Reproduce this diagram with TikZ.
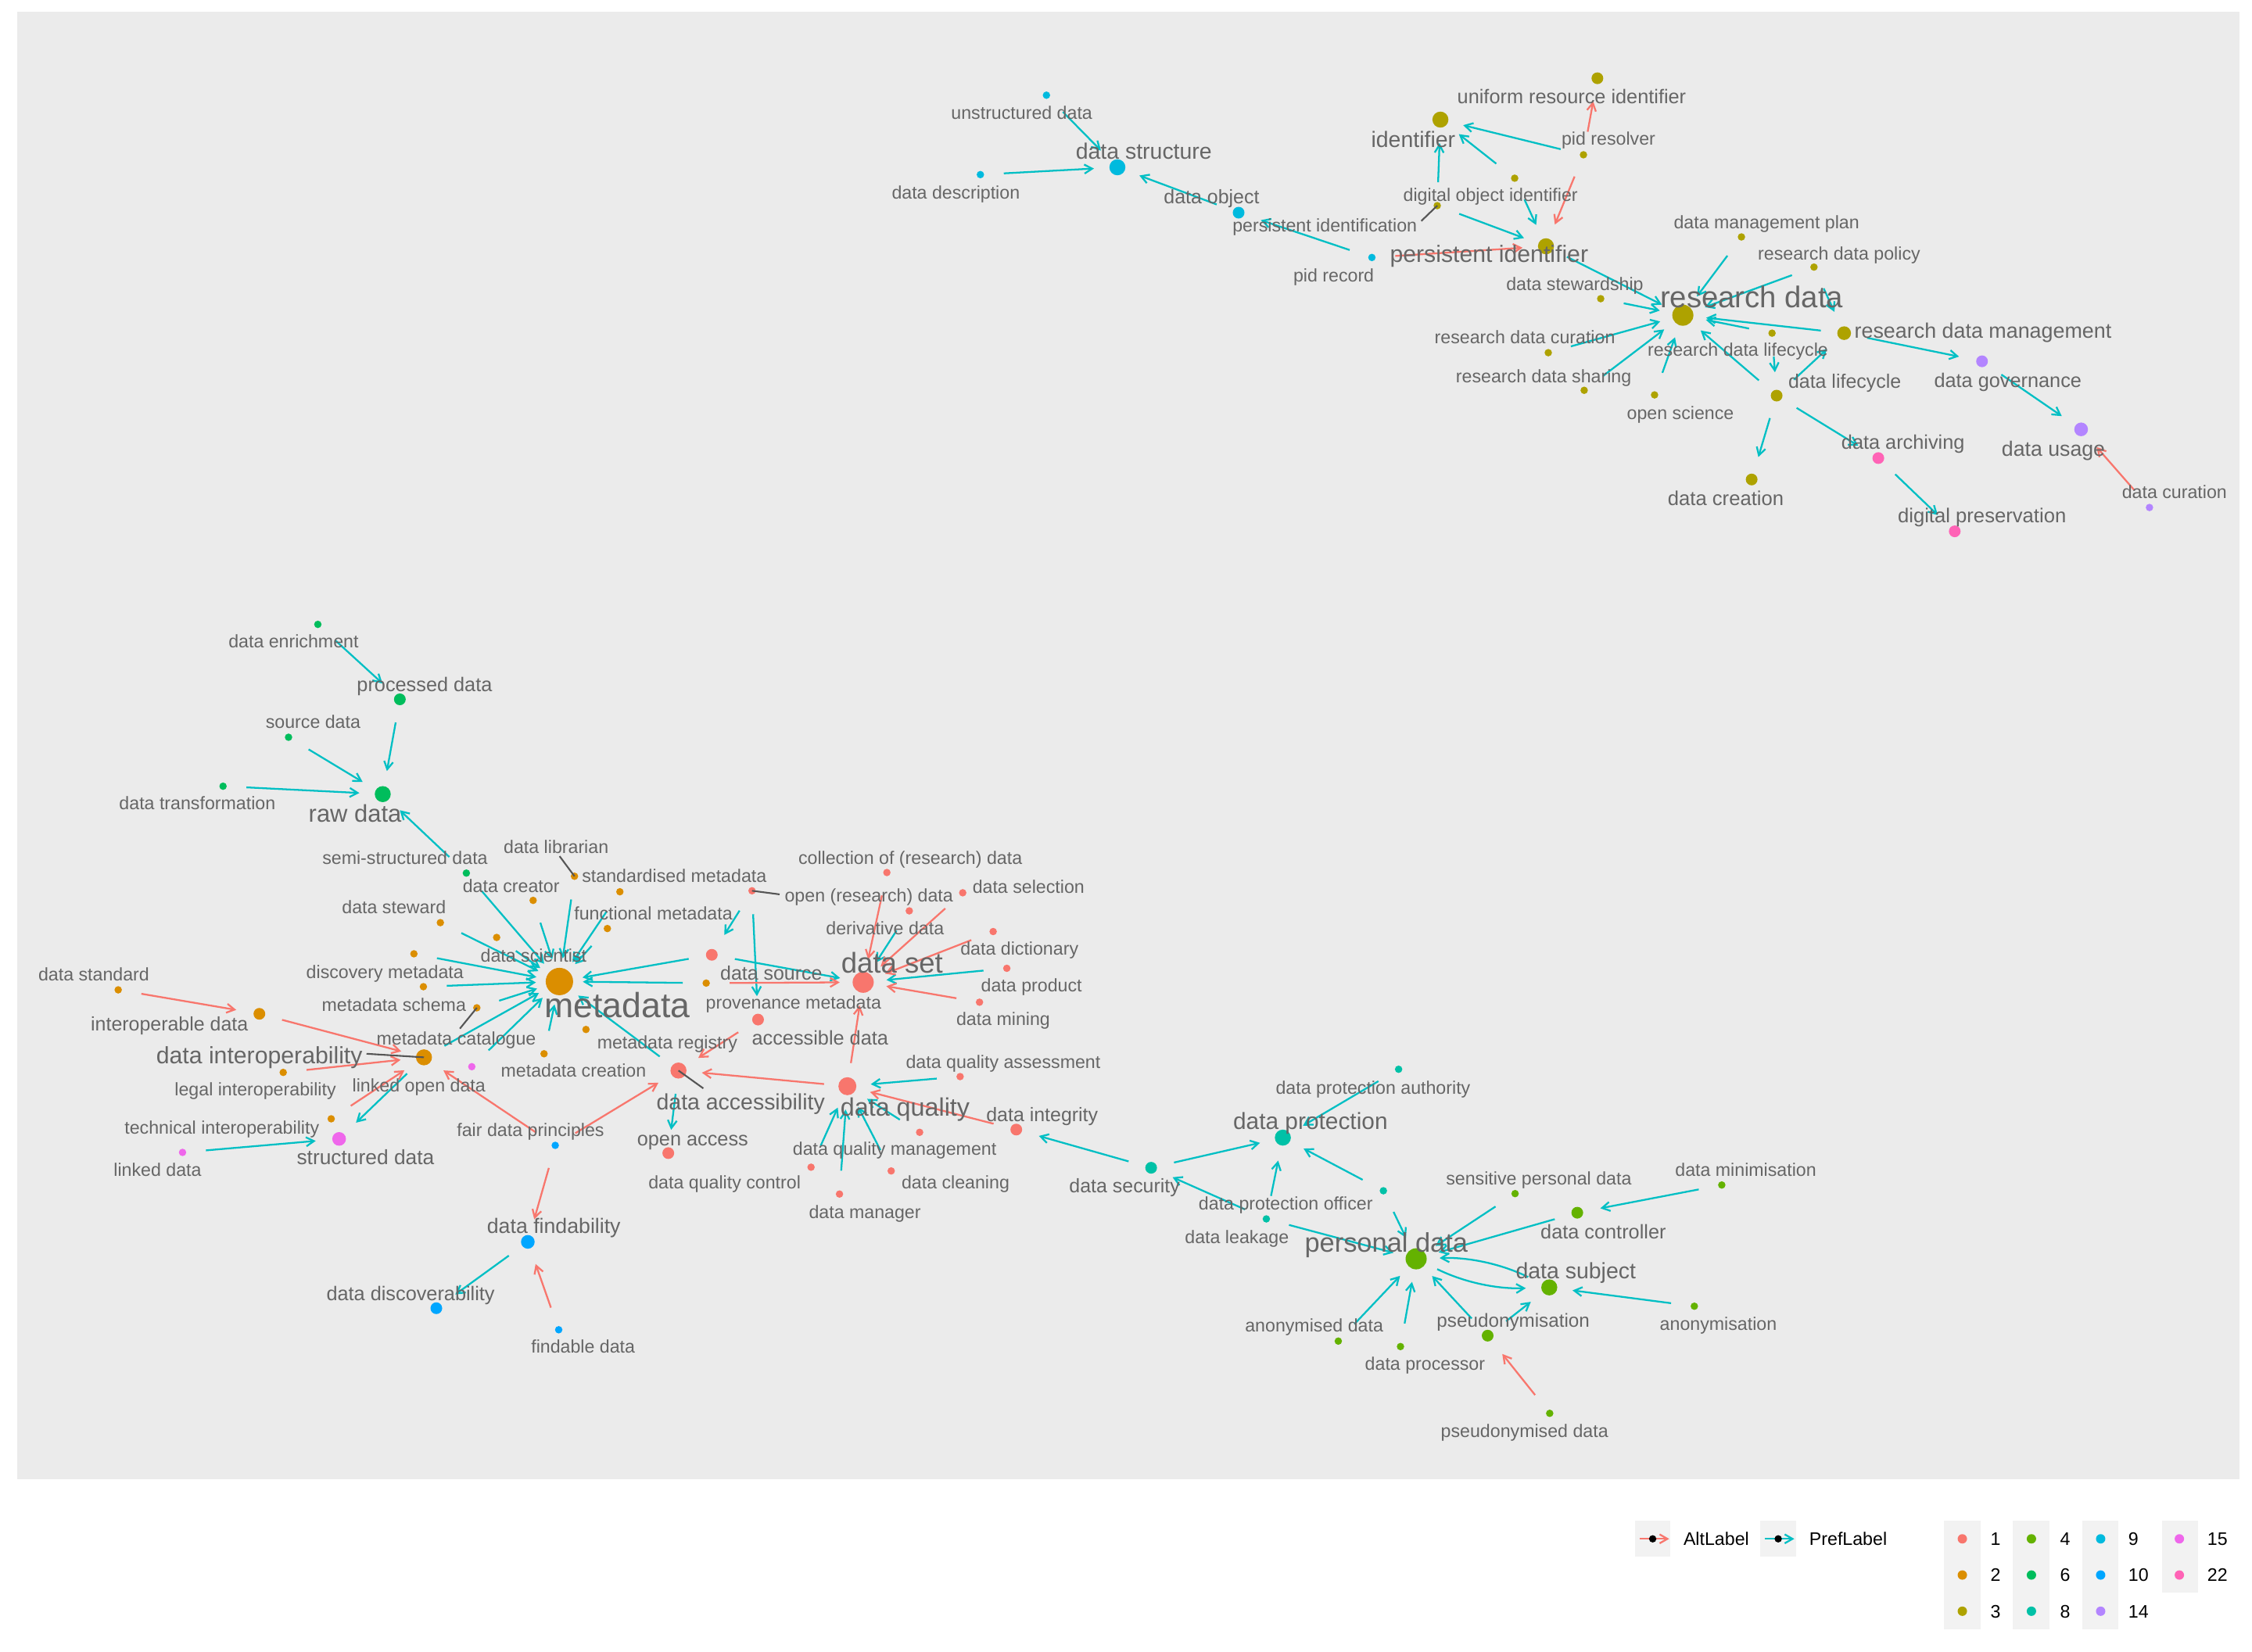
\documentclass[tikz,border=0pt]{standalone}
\usepackage{fontspec}
\setmainfont{Liberation Sans}
\usetikzlibrary{arrows.meta}
\definecolor{c1}{HTML}{F8766D}
\definecolor{c2}{HTML}{DB8E00}
\definecolor{c3}{HTML}{AEA200}
\definecolor{c4}{HTML}{64B200}
\definecolor{c6}{HTML}{00BD5C}
\definecolor{c8}{HTML}{00C1A7}
\definecolor{c9}{HTML}{00BADE}
\definecolor{c10}{HTML}{00A6FF}
\definecolor{c14}{HTML}{B385FF}
\definecolor{c15}{HTML}{EF67EB}
\definecolor{c22}{HTML}{FF63B6}
\definecolor{altc}{HTML}{F8766D}
\definecolor{prefc}{HTML}{00BFC4}
\definecolor{panelbg}{HTML}{EBEBEB}
\definecolor{keybg}{HTML}{F2F2F2}
\definecolor{labelgray}{HTML}{666666}
\definecolor{seggray}{HTML}{555555}
\begin{document}
\begin{tikzpicture}[x=0.018367cm,y=-0.018367cm,
  dotnode/.style={circle,inner sep=0pt,draw=none,fill=#1},
  dS/.style={minimum size=0.95mm},
  dM/.style={minimum size=1.5mm},
  dML/.style={minimum size=1.75mm},
  dL/.style={minimum size=2.05mm},
  dQ/.style={minimum size=2.3mm},
  dXL/.style={minimum size=2.7mm},
  dXXL/.style={minimum size=3.5mm},
  lbl/.style={text=labelgray,inner sep=0pt,font=\fontsize{#1}{#1}\selectfont,text height=0.72*#1pt,text depth=0pt},
  tip/.style={-{Straight Barb[length=1mm,width=1.15mm]}},
  edge/.style={line width=0.65pt,shorten <=3mm,shorten >=3mm,tip},
  pref/.style={edge,draw=prefc},
  alt/.style={edge,draw=altc},
  seg/.style={draw=seggray,line width=0.6pt},
  legtext/.style={text=black,inner sep=0pt,anchor=west,font=\fontsize{6.6}{6.6}\selectfont,text height=4.75pt,text depth=0pt},
]
\useasboundingbox (0,0) rectangle (1568,1150);
\fill[white] (0,0) rectangle (1568,1150);
\fill[panelbg] (12,8) rectangle (1559,1030);

% ---------- concept points ----------
\node[dotnode=c9,dS] (unstruct) at (728.6,66.3) {};
\node[dotnode=c9,dL] (dstruct) at (778,116.5) {};
\node[dotnode=c9,dS] (ddesc) at (682.6,121.6) {};
\node[dotnode=c9,dM] (dobject) at (862.4,148.1) {};
\node[dotnode=c9,dS] (pidrecord) at (955.2,179.3) {};
\node[dotnode=c3,dM] (uri) at (1112.2,54.5) {};
\node[dotnode=c3,dL] (identifier) at (1002.9,83.3) {};
\node[dotnode=c3,dS] (pidresolver) at (1102.5,107.8) {};
\node[dotnode=c3,dS] (doi) at (1054.6,124.1) {};
\node[dotnode=c3,dS] (persid) at (1000.7,143.2) {};
\node[dotnode=c3,dL] (persidf) at (1076.4,171.5) {};
\node[dotnode=c3,dXL] (resdata) at (1171.7,219.5) {};
\node[dotnode=c3,dS] (dmp) at (1212.5,165) {};
\node[dotnode=c3,dS] (rdpolicy) at (1263,186) {};
\node[dotnode=c3,dS] (dstewardship) at (1114.5,208) {};
\node[dotnode=c3,dS] (rdcuration) at (1078,245.6) {};
\node[dotnode=c3,dS] (rdlifecycle) at (1233.8,232) {};
\node[dotnode=c3,dML] (rdm) at (1284,232) {};
\node[dotnode=c3,dS] (rdsharing) at (1103,271.8) {};
\node[dotnode=c3,dS] (openscience) at (1152,275) {};
\node[dotnode=c3,dM] (dlifecycle) at (1237,275.5) {};
\node[dotnode=c14,dM] (dgovernance) at (1380,251.6) {};
\node[dotnode=c14,dML] (dusage) at (1449,299) {};
\node[dotnode=c14,dS] (dcuration) at (1496.6,353.4) {};
\node[dotnode=c22,dM] (darchiving) at (1307.8,319) {};
\node[dotnode=c22,dM] (dpreservation) at (1361,370) {};
\node[dotnode=c3,dM] (dcreation) at (1219.6,333.9) {};
\node[dotnode=c6,dS] (denrich) at (221.3,434.8) {};
\node[dotnode=c6,dM] (processed) at (278.4,487) {};
\node[dotnode=c6,dS] (sourcedata) at (200.9,513.4) {};
\node[dotnode=c6,dS] (dtransform) at (155.3,547.5) {};
\node[dotnode=c6,dL] (rawdata) at (266.5,553) {};
\node[dotnode=c6,dS] (semistruct) at (324.7,608) {};
\node[dotnode=c2,dS] (dlibrarian) at (400,610.2) {};
\node[dotnode=c2,dS] (stdmeta) at (431.6,621) {};
\node[dotnode=c2,dS] (dcreator) at (371.2,627) {};
\node[dotnode=c2,dS] (dsteward) at (306.6,642.5) {};
\node[dotnode=c2,dS] (funcmeta) at (422.9,646.6) {};
\node[dotnode=c2,dS] (dscientist) at (345.8,652.8) {};
\node[dotnode=c2,dS] (discmeta) at (288.2,664.2) {};
\node[dotnode=c2,dS] (metaschema) at (294.8,687.1) {};
\node[dotnode=c2,dS] (metacatalogue) at (332,701.8) {};
\node[dotnode=c2,dS] (provmeta) at (491.7,684.6) {};
\node[dotnode=c2,dS] (metaregistry) at (408,716.9) {};
\node[dotnode=c2,dS] (metacreation) at (378.8,733.8) {};
\node[dotnode=c2,dXXL] (metadata) at (389.5,683.5) {};
\node[dotnode=c2,dL] (dinterop) at (295.2,736.3) {};
\node[dotnode=c2,dM] (interopdata) at (180.6,706) {};
\node[dotnode=c2,dS] (dstandard) at (82.3,689.3) {};
\node[dotnode=c2,dS] (legalinterop) at (197.2,746.8) {};
\node[dotnode=c2,dS] (techinterop) at (230.6,779.1) {};
\node[dotnode=c15,dS] (linkedopen) at (328.5,742.8) {};
\node[dotnode=c15,dML] (structured) at (236.1,793.1) {};
\node[dotnode=c15,dS] (linkeddata) at (127.1,802.5) {};
\node[dotnode=c10,dS] (fair) at (386.6,797.6) {};
\node[dotnode=c10,dML] (findability) at (367.5,864.8) {};
\node[dotnode=c10,dM] (discoverability) at (303.8,911) {};
\node[dotnode=c10,dS] (findable) at (389,926) {};
\node[dotnode=c1,dS] (collection) at (617.5,607.6) {};
\node[dotnode=c1,dS] (openresearch) at (523.6,620.3) {};
\node[dotnode=c1,dS] (dselection) at (670.3,621.7) {};
\node[dotnode=c1,dS] (derivative) at (633.1,634.3) {};
\node[dotnode=c1,dS] (ddictionary) at (691.5,648.7) {};
\node[dotnode=c1,dS] (dproduct) at (701,674.3) {};
\node[dotnode=c1,dS] (dmining) at (682,697.9) {};
\node[dotnode=c1,dXL] (dataset) at (601,684) {};
\node[dotnode=c1,dM] (dsource) at (495.6,664.9) {};
\node[dotnode=c1,dM] (accessible) at (527.8,710) {};
\node[dotnode=c1,dL] (daccess) at (472.4,745.5) {};
\node[dotnode=c1,dM] (openaccess) at (465.3,803) {};
\node[dotnode=c1,dQ] (dquality) at (590,756.4) {};
\node[dotnode=c1,dS] (dqassess) at (668.5,749.7) {};
\node[dotnode=c1,dM] (dintegrity) at (707.6,786.6) {};
\node[dotnode=c1,dS] (dqmanage) at (640.3,788.5) {};
\node[dotnode=c1,dS] (dqcontrol) at (564.7,812.8) {};
\node[dotnode=c1,dS] (dcleaning) at (620.5,815.4) {};
\node[dotnode=c1,dS] (dmanager) at (584.5,831.5) {};
\node[dotnode=c8,dS] (dpauthority) at (973.8,744.6) {};
\node[dotnode=c8,dL] (dprotection) at (893.2,792.2) {};
\node[dotnode=c8,dM] (dsecurity) at (801.5,813.2) {};
\node[dotnode=c8,dS] (dpofficer) at (963.2,829.2) {};
\node[dotnode=c8,dS] (dleakage) at (881.7,848.8) {};
\node[dotnode=c4,dS] (sensitive) at (1054.9,831.2) {};
\node[dotnode=c4,dS] (dminimisation) at (1198.8,825.2) {};
\node[dotnode=c4,dM] (dcontroller) at (1098.2,844.5) {};
\node[dotnode=c4,dXL] (personal) at (986,876.6) {};
\node[dotnode=c4,dL] (dsubject) at (1078.7,896.5) {};
\node[dotnode=c4,dS] (anonymisation) at (1179.7,909.6) {};
\node[dotnode=c4,dM] (pseudonymisation) at (1035.8,930.1) {};
\node[dotnode=c4,dS] (anonymised) at (931.8,933.9) {};
\node[dotnode=c4,dS] (dprocessor) at (975.1,937.7) {};
\node[dotnode=c4,dS] (pseudonymised) at (1079,984.2) {};

% ---------- PrefLabel relations ----------
\foreach \s/\t in {unstruct/dstruct, ddesc/dstruct, dobject/dstruct, pidrecord/dobject,
  pidresolver/identifier, doi/identifier, persid/identifier, doi/persidf, persid/persidf,
  persidf/resdata, dmp/resdata, rdpolicy/resdata, rdpolicy/rdm, dstewardship/resdata,
  rdcuration/resdata, rdsharing/resdata, openscience/resdata, dlifecycle/resdata,
  rdlifecycle/resdata, rdm/resdata, rdlifecycle/dlifecycle, dlifecycle/rdm,
  rdm/dgovernance, dgovernance/dusage, dlifecycle/dcreation, dlifecycle/darchiving,
  darchiving/dpreservation,
  denrich/processed, processed/rawdata, sourcedata/rawdata, dtransform/rawdata, semistruct/rawdata,
  semistruct/metadata, dlibrarian/metadata, stdmeta/metadata, funcmeta/metadata,
  dcreator/metadata, dsteward/metadata, dscientist/metadata, discmeta/metadata,
  metaschema/metadata, metacatalogue/metadata, dinterop/metadata, metacreation/metadata,
  linkedopen/metadata, daccess/metadata, provmeta/metadata, dsource/metadata,
  openresearch/dsource, openresearch/accessible,
  dsource/dataset, derivative/dataset, dproduct/dataset,
  dinterop/structured, linkeddata/structured, daccess/openaccess,
  dqassess/dquality, dqmanage/dquality, dcleaning/dquality, dmanager/dquality, dqcontrol/dquality,
  findability/discoverability,
  dsecurity/dintegrity, dpauthority/dprotection, dsecurity/dprotection, dpofficer/dprotection,
  dleakage/dprotection, dleakage/dsecurity, dleakage/personal, dpofficer/personal,
  sensitive/personal, dcontroller/personal, dminimisation/dcontroller,
  anonymisation/dsubject, pseudonymisation/dsubject, pseudonymisation/personal,
  anonymised/personal, dprocessor/personal}
  \draw[pref] (\s.center) -- (\t.center);
\draw[pref] (personal.center) to[bend right=14] (dsubject.center);
\draw[pref] (dsubject.center) to[bend right=14] (personal.center);

% ---------- AltLabel relations ----------
\foreach \s/\t in {pidresolver/uri, pidresolver/persidf, pidrecord/persidf, dcuration/dusage,
  dstandard/interopdata, interopdata/dinterop, legalinterop/dinterop, techinterop/dinterop,
  fair/dinterop, fair/daccess, fair/findability, findable/findability,
  accessible/daccess, dquality/daccess, provmeta/dataset, collection/dataset,
  dselection/dataset, ddictionary/dataset, dmining/dataset, dquality/dataset,
  dintegrity/dquality, pseudonymised/pseudonymisation}
  \draw[alt] (\s.center) -- (\t.center);

% ---------- label leader lines ----------
\coordinate (persid-s) at (989.6,153.9);
\coordinate (dlibrarian-s) at (389.6,596.2);
\coordinate (metacatalogue-s) at (320.2,716.3);
\coordinate (dinterop-s) at (255.2,733.8);
\coordinate (openresearch-s) at (542.8,622.8);
\coordinate (daccess-s) at (489.7,757.9);
\foreach \n in {persid, dlibrarian, metacatalogue, dinterop, openresearch, daccess}
  \draw[seg] (\n-s) -- (\n.center);

% ---------- labels ----------
\node[lbl=6.6] (unstruct-l) at (711.4,78.4) {unstructured data};
\node[lbl=8.1] (dstruct-l) at (796.4,105.3) {data structure};
\node[lbl=6.6] (ddesc-l) at (665.5,133.8) {data description};
\node[lbl=7.1] (dobject-l) at (843.6,136.7) {data object};
\node[lbl=6.6] (pidrecord-l) at (928.6,191.5) {pid record};
\node[lbl=7.2] (uri-l) at (1094.3,67) {uniform resource identifier};
\node[lbl=8.1] (identifier-l) at (984,96.8) {identifier};
\node[lbl=6.6] (pidresolver-l) at (1119.9,96.4) {pid resolver};
\node[lbl=6.6] (doi-l) at (1037.8,135.6) {digital object identifier};
\node[lbl=6.6] (persid-l) at (922.4,157) {persistent identification};
\node[lbl=8.6] (persidf-l) at (1036.8,177) {persistent identifier};
\node[lbl=10.9] (resdata-l) at (1219.6,206.9) {research data};
\node[lbl=6.6] (dmp-l) at (1230,154.6) {data management plan};
\node[lbl=6.6] (rdpolicy-l) at (1280.5,176.4) {research data policy};
\node[lbl=6.6] (dstewardship-l) at (1096.5,197.6) {data stewardship};
\node[lbl=6.6] (rdcuration-l) at (1061.7,235) {research data curation};
\node[lbl=6.6] (rdlifecycle-l) at (1210,243.5) {research data lifecycle};
\node[lbl=7.65] (rdm-l) at (1380.7,230.3) {research data management};
\node[lbl=6.6] (rdsharing-l) at (1074.8,262) {research data sharing};
\node[lbl=6.6] (openscience-l) at (1170,287.5) {open science};
\node[lbl=7.1] (dlifecycle-l) at (1284.4,265.7) {data lifecycle};
\node[lbl=7.2] (dgovernance-l) at (1398,265) {data governance};
\node[lbl=7.6] (dusage-l) at (1429.7,312.5) {data usage};
\node[lbl=6.6] (dcuration-l) at (1514,342.5) {data curation};
\node[lbl=7.2] (darchiving-l) at (1325,308) {data archiving};
\node[lbl=7.3] (dpreservation-l) at (1380,359) {digital preservation};
\node[lbl=7.3] (dcreation-l) at (1201.6,346.9) {data creation};
\node[lbl=6.6] (denrich-l) at (204.4,446.5) {data enrichment};
\node[lbl=7.2] (processed-l) at (295.6,476.4) {processed data};
\node[lbl=6.6] (sourcedata-l) at (218,502.7) {source data};
\node[lbl=6.6] (dtransform-l) at (137.4,559) {data transformation};
\node[lbl=8.8] (rawdata-l) at (247.2,566.6) {raw data};
\node[lbl=6.6] (semistruct-l) at (282,597.5) {semi-structured data};
\node[lbl=6.6] (dlibrarian-l) at (387.2,589.8) {data librarian};
\node[lbl=6.6] (stdmeta-l) at (469.5,609.8) {standardised metadata};
\node[lbl=6.6] (dcreator-l) at (355.9,617) {data creator};
\node[lbl=6.6] (dsteward-l) at (274.3,631.6) {data steward};
\node[lbl=6.6] (funcmeta-l) at (454.9,636.1) {functional metadata};
\node[lbl=6.6] (dscientist-l) at (371.5,665.2) {data scientist};
\node[lbl=6.6] (discmeta-l) at (268,676.6) {discovery metadata};
\node[lbl=6.6] (metaschema-l) at (274.3,699.6) {metadata schema};
\node[lbl=6.6] (metacatalogue-l) at (317.7,723.2) {metadata catalogue};
\node[lbl=6.6] (provmeta-l) at (552.5,697.8) {provenance metadata};
\node[lbl=6.6] (metaregistry-l) at (464.6,725.9) {metadata registry};
\node[lbl=6.6] (metacreation-l) at (399.3,745.4) {metadata creation};
\node[lbl=12.7] (metadata-l) at (429.7,699.6) {metadata};
\node[lbl=8.6] (dinterop-l) at (180.6,734.6) {data interoperability};
\node[lbl=7.1] (interopdata-l) at (118,712.9) {interoperable data};
\node[lbl=6.6] (dstandard-l) at (65.3,678.4) {data standard};
\node[lbl=6.6] (legalinterop-l) at (177.8,758.6) {legal interoperability};
\node[lbl=6.6] (techinterop-l) at (154.5,785) {technical interoperability};
\node[lbl=6.6] (linkedopen-l) at (291.7,755.9) {linked open data};
\node[lbl=7.5] (structured-l) at (254.5,805.8) {structured data};
\node[lbl=6.6] (linkeddata-l) at (109.7,814.3) {linked data};
\node[lbl=6.6] (fair-l) at (369.4,786.7) {fair data principles};
\node[lbl=7.6] (findability-l) at (385.6,853.5) {data findability};
\node[lbl=7.2] (discoverability-l) at (285.9,900.7) {data discoverability};
\node[lbl=6.6] (findable-l) at (406,937.7) {findable data};
\node[lbl=6.6] (collection-l) at (633.8,597.1) {collection of (research) data};
\node[lbl=6.6] (openresearch-l) at (605,623.6) {open (research) data};
\node[lbl=6.6] (dselection-l) at (716.1,617.5) {data selection};
\node[lbl=6.6] (derivative-l) at (616.2,646.2) {derivative data};
\node[lbl=6.6] (ddictionary-l) at (709.8,660.5) {data dictionary};
\node[lbl=6.6] (dproduct-l) at (718.2,686.3) {data product};
\node[lbl=6.6] (dmining-l) at (698.5,709.6) {data mining};
\node[lbl=10.4] (dataset-l) at (621.1,670.4) {data set};
\node[lbl=7.1] (dsource-l) at (537,677.7) {data source};
\node[lbl=7.2] (accessible-l) at (571,722.6) {accessible data};
\node[lbl=8.1] (daccess-l) at (515.7,767.5) {data accessibility};
\node[lbl=7.2] (openaccess-l) at (482.3,792.7) {open access};
\node[lbl=9.2] (dquality-l) at (630.2,770.7) {data quality};
\node[lbl=6.6] (dqassess-l) at (698.5,739.2) {data quality assessment};
\node[lbl=7.1] (dintegrity-l) at (725.6,776) {data integrity};
\node[lbl=6.6] (dqmanage-l) at (622.9,800) {data quality management};
\node[lbl=6.6] (dqcontrol-l) at (504.5,823.5) {data quality control};
\node[lbl=6.6] (dcleaning-l) at (665.3,823.5) {data cleaning};
\node[lbl=6.6] (dmanager-l) at (602.2,843.9) {data manager};
\node[lbl=6.6] (dpauthority-l) at (956,757.2) {data protection authority};
\node[lbl=8.5] (dprotection-l) at (912.4,780.7) {data protection};
\node[lbl=7.1] (dsecurity-l) at (783,825.8) {data security};
\node[lbl=6.6] (dpofficer-l) at (895.2,837.9) {data protection officer};
\node[lbl=6.6] (dleakage-l) at (861.2,861.2) {data leakage};
\node[lbl=6.6] (sensitive-l) at (1071.4,820.7) {sensitive personal data};
\node[lbl=6.6] (dminimisation-l) at (1215.5,814.5) {data minimisation};
\node[lbl=7.2] (dcontroller-l) at (1116.3,857.5) {data controller};
\node[lbl=9.8] (personal-l) at (965.2,865.1) {personal data};
\node[lbl=8.1] (dsubject-l) at (1097.2,885.1) {data subject};
\node[lbl=6.6] (anonymisation-l) at (1196.4,921.6) {anonymisation};
\node[lbl=6.9] (pseudonymisation-l) at (1053.6,919.2) {pseudonymisation};
\node[lbl=6.6] (anonymised-l) at (915,922.8) {anonymised data};
\node[lbl=6.6] (dprocessor-l) at (992.2,949.7) {data processor};
\node[lbl=6.6] (pseudonymised-l) at (1061.5,996.4) {pseudonymised data};

% ---------- legend: relation type ----------
\fill[keybg] (1138.4,1059) rectangle (1163.1,1083.9);
\fill[keybg] (1225.7,1059) rectangle (1250.4,1083.9);
\coordinate (altkey-a) at (1141.5,1071.6);
\coordinate (altkey-b) at (1162.2,1071.6);
\coordinate (prefkey-a) at (1228.6,1071.6);
\coordinate (prefkey-b) at (1249.3,1071.6);
\draw[altc,line width=0.65pt,tip] (altkey-a) -- (altkey-b);
\draw[prefc,line width=0.65pt,tip] (prefkey-a) -- (prefkey-b);
\fill[black] (1150.7,1071.6) circle (0.47mm);
\fill[black] (1238.1,1071.6) circle (0.47mm);
\node[legtext] (altkey-t) at (1171.8,1071.6) {AltLabel};
\node[legtext] (prefkey-t) at (1259.4,1071.6) {PrefLabel};

% ---------- legend: groups ----------
\fill[keybg] (1353.4,1059) rectangle (1378.8,1134.4);
\fill[keybg] (1401.5,1059) rectangle (1426.9,1134.4);
\fill[keybg] (1449.9,1059) rectangle (1475,1134.4);
\fill[keybg] (1505.3,1059) rectangle (1530.3,1109.2);
\foreach \x/\tx/\y/\c/\t in {
  1366.3/1385.5/1071.6/c1/1, 1366.3/1385.5/1096.8/c2/2, 1366.3/1385.5/1122/c3/3,
  1414.4/1434/1071.6/c4/4, 1414.4/1434/1096.8/c6/6, 1414.4/1434/1122/c8/8,
  1462.6/1481.5/1071.6/c9/9, 1462.6/1481.5/1096.8/c10/10, 1462.6/1481.5/1122/c14/14,
  1517.4/1536.5/1071.6/c15/15, 1517.4/1536.5/1096.8/c22/22}
{
  \fill[\c] (\x,\y) circle (0.6mm);
  \node[legtext] (grp-\t) at (\tx,\y) {\t};
}
\end{tikzpicture}
\end{document}
